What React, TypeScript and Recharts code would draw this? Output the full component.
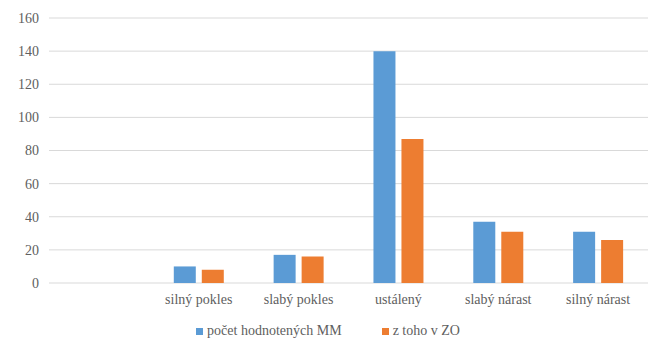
import React from 'react';
import { BarChart, Bar, XAxis, YAxis, CartesianGrid, Legend } from 'recharts';

const categories = ['', 'silný pokles', 'slabý pokles', 'ustálený', 'slabý nárast', 'silný nárast'];
const pocetMM = [null, 10, 17, 140, 37, 31];
const zTohoZO = [null, 8, 16, 87, 31, 26];
const yTicks = [0, 20, 40, 60, 80, 100, 120, 140, 160];

const seriesNames = ['počet hodnotených MM', 'z toho v ZO'];
const colors = ['#5B9BD5', '#ED7D31'];

const data = categories.map((name, i) => ({
  name,
  pocet: pocetMM[i],
  ztoho: zTohoZO[i],
}));

const font = "'Times New Roman', 'Liberation Serif', Tinos, 'DejaVu Serif', serif";
const textColor = '#606060';

const LegendContent = () => (
  <div
    style={{
      height: 28,
      paddingTop: 8,
      boxSizing: 'border-box',
      display: 'flex',
      justifyContent: 'center',
      fontFamily: font,
      fontSize: 14,
      color: textColor,
      lineHeight: '20px',
    }}
  >
    {seriesNames.map((s, i) => (
      <div key={s} style={{ display: 'flex', alignItems: 'center', marginRight: i === 0 ? 40 : 0 }}>
        <span style={{ width: 7, height: 7, background: colors[i], marginRight: 4, display: 'inline-block' }} />
        <span>{s}</span>
      </div>
    ))}
  </div>
);

export default function App() {
  return (
    <div style={{ position: 'absolute', left: 0, top: 0, width: 658, height: 345, background: '#fff' }}>
      <BarChart
        width={658}
        height={345}
        data={data}
        margin={{ top: 18, right: 10, left: 8, bottom: 4 }}
        barCategoryGap="25%"
        barGap={6}
      >
        <CartesianGrid vertical={false} stroke="#d9d9d9" />
        <XAxis
          dataKey="name"
          axisLine={false}
          tickLine={false}
          interval={0}
          height={30}
          tickMargin={5}
          tick={{ fill: textColor, fontSize: 14, fontFamily: font }}
        />
        <YAxis
          width={41}
          domain={[0, 160]}
          ticks={yTicks}
          axisLine={false}
          tickLine={false}
          tickMargin={4}
          tick={{ fill: textColor, fontSize: 14, fontFamily: font }}
        />
        <Legend verticalAlign="bottom" content={<LegendContent />} />
        <Bar dataKey="pocet" name={seriesNames[0]} fill={colors[0]} isAnimationActive={false} />
        <Bar dataKey="ztoho" name={seriesNames[1]} fill={colors[1]} isAnimationActive={false} />
      </BarChart>
    </div>
  );
}
